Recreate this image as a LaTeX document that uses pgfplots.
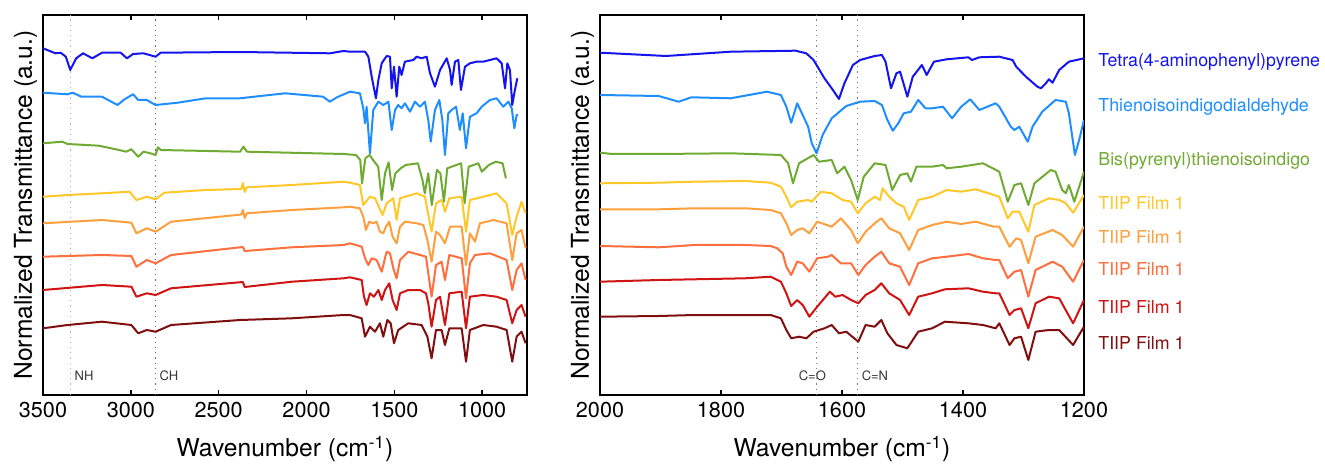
\documentclass[border=0pt]{standalone}
\usepackage{fontspec}
\setmainfont{TeX Gyre Heros}
\usepackage{pgfplots}
\pgfplotsset{compat=1.18}

\definecolor{cTAPPy}{RGB}{20,20,238}
\definecolor{cTID}{RGB}{30,142,255}
\definecolor{cBPTI}{RGB}{112,170,50}
\definecolor{cFa}{RGB}{255,200,40}
\definecolor{cFb}{RGB}{255,158,60}
\definecolor{cFc}{RGB}{255,110,60}
\definecolor{cFd}{RGB}{208,20,20}
\definecolor{cFe}{RGB}{128,15,15}

\tikzset{bandlbl/.style={font=\fontsize{6.5}{7}\selectfont, text=black!80, inner sep=0pt}}

\pgfplotsset{
  irpanel/.style={
    anchor=south west,
    scale only axis,
    width=242pt, height=190pt,
    x dir=reverse,
    ymin=0, ymax=380,
    ytick=\empty,
    tick align=inside,
    major tick length=2.5pt,
    xticklabel pos=lower,
    axis line style={line width=0.9pt},
    every tick/.style={black, line width=0.8pt},
    /pgf/number format/assume math mode=true,
    /pgf/number format/1000 sep={},
    tick label style={font=\fontsize{10.8}{12}\selectfont},
    label style={font=\fontsize{12.3}{14}\selectfont},
    xlabel={Wavenumber (cm\textsuperscript{-1})},
    xlabel style={at={(axis description cs:0.5,0)}, anchor=center, yshift=-27pt},
    ylabel={Normalized Transmittance (a.u.)},
    ylabel style={at={(axis description cs:-0.036,0.5)}, anchor=center},
    every axis plot/.append style={line width=1pt, line join=round, no markers},
  },
}

\begin{document}
\begin{tikzpicture}[x=1pt,y=1pt]
\useasboundingbox (0,0) rectangle (662.5,233);

% ---------------- full range ----------------
\begin{axis}[irpanel, at={(21.5pt,35.5pt)}, xmin=745, xmax=3500,
  xtick={1000,1500,2000,2500,3000,3500}]
\draw[black!30, dotted, line width=0.6pt] (axis cs:3345,0) -- (axis cs:3345,380);
\draw[black!60, dotted, line width=0.6pt] (axis cs:2860,0) -- (axis cs:2860,380);
\node[bandlbl, anchor=west] at (axis cs:3322,19) {NH};
\node[bandlbl, anchor=west] at (axis cs:2838,19) {CH};

\addplot[cTAPPy] table {
3500 346.7
3429 341.7
3400 342.3
3370 338.3
3345 325
3311 336.7
3272 341.7
3219 336.7
3164 342.3
3058 342.3
3022 336.7
2987 341
2928 341.7
2859 338.3
2830 342.3
2379 343
1867 341.7
1790 344
1753 343.3
1667 343.3
1648 338.3
1629 318.3
1605 296.7
1591 315
1572 331.7
1544 339
1525 338.3
1515 306.7
1502 328.3
1487 298.3
1472 328.3
1459 320
1440 333.3
1392 335
1373 338.3
1345 336.7
1316 338.3
1297 321.7
1269 308.3
1240 325
1202 336.7
1183 325
1174 310
1155 333.3
1136 335
1121 305
1098 328.3
1070 331.7
1032 333.3
994 333.3
918 336.7
889 331.7
870 306.7
857 331.7
842 325
829 290
814 305
800 316.7
};
\addplot[cTID] table {
3500 302.3
3360 300.7
3331 302.3
3282 298.3
3164 298.3
3076 290
3036 295.7
2987 300.7
2958 295
2909 295
2859 290
2733 292.3
2574 296.7
2380 296.7
2122 301.7
1906 298.3
1867 293.3
1827 297.7
1753 303.3
1696 301.7
1677 286.7
1667 271.7
1658 288.3
1639 241.7
1620 285
1591 293.3
1563 290
1534 293.3
1515 265
1496 285
1478 290
1459 286.7
1440 291.7
1411 283.3
1383 293.3
1354 288.3
1326 293.3
1307 275
1293 253.3
1269 285
1244 295
1227 275
1212 240
1193 281.7
1174 285
1149 288.3
1127 265
1111 281.7
1092 246.7
1070 278.3
1032 281.7
1003 288.3
956 295
918 296.7
880 288.3
851 293.3
832 286.7
817 266.7
804 280
795 280
};
\addplot[cBPTI] table {
3500 251.7
3390 253.3
3360 251
3183 249.3
3066 245
3027 243.3
2997 245.7
2958 238.3
2928 243.3
2889 241.7
2859 240
2846 247.7
2830 245
2378 243.3
2359 248.3
2339 243.3
1788 241
1719 240
1694 235
1684 211.7
1665 236.7
1641 240
1621 235
1592 228.3
1572 195
1553 221.7
1533 232.7
1513 205
1494 221.7
1464 226.7
1435 230
1366 231.7
1340 215
1327 201.7
1307 221.7
1287 190
1258 225
1238 221.7
1218 193.3
1199 226.7
1120 231.7
1100 191.7
1077 228.3
1022 231.7
1002 223.3
963 230
923 233.3
884 231.7
865 216.7
};
\addplot[cFa] table {
3500 198.3
3360 200
3164 201.7
3007 203.3
2968 195
2909 198.3
2859 195.7
2810 202.3
2574 205
2372 206
2362 212
2352 203
2340 207.7
2083 210
1788 213.3
1753 212.3
1696 210
1677 190
1639 198.3
1610 196.7
1567 180
1544 191.7
1506 196.7
1487 175
1468 196.7
1373 201.7
1326 198.3
1312 185
1288 163.3
1263 191.7
1231 195
1212 183.3
1187 196.7
1117 198.3
1092 163.3
1070 195
994 198.3
918 201.7
861 191.7
829 160
804 178.3
776 193.3
753 181.7
};
\addplot[cFb] table {
3500 171.7
3164 175
2997 172.3
2968 161.7
2909 166.7
2859 163.3
2771 173.3
2372 180.5
2362 185
2352 177
2340 181.7
2083 185
1788 187.7
1753 188.3
1696 186.7
1677 178.3
1662 165
1643 173.3
1620 171.7
1601 173.3
1582 163.3
1563 161.7
1548 168.3
1529 173.3
1510 158.3
1487 151.7
1468 168.3
1440 173.3
1373 171.7
1335 170
1312 155
1288 133.3
1263 163.3
1240 160
1212 151.7
1183 168.3
1117 168.3
1092 130
1070 161.7
1041 153.3
1013 171.7
937 175
861 171.7
829 135
804 161.7
776 165
753 146.7
};
\addplot[cFc] table {
3500 138.3
3164 140
2997 139
2968 128.3
2909 135
2859 131.7
2771 140
2362 148
2352 144
2083 147.7
1788 150
1753 151.7
1686 148.3
1667 136.7
1648 130
1629 136.7
1601 135
1572 123.3
1544 143.3
1525 141.7
1506 126.7
1487 116.7
1468 135
1421 143.3
1354 140
1320 138.3
1307 121.7
1288 98.3
1263 130
1231 133.3
1212 115
1187 140
1117 136.7
1092 96.7
1070 131.7
1041 140
956 141.7
861 135
829 105
804 125
776 131.7
753 115
};
\addplot[cFd] table {
3500 105
3164 110
2997 108.3
2968 98.3
2909 101.7
2859 100
2771 106.7
2362 113
2352 108
2083 113.3
1788 116.7
1753 117.7
1686 115
1673 98.3
1658 90
1639 101.7
1616 98.3
1591 105
1572 95
1553 105
1529 111.7
1510 95
1487 85
1468 101.7
1421 105
1354 105
1320 101.7
1307 91.7
1288 68.3
1263 95
1240 98.3
1212 70
1187 101.7
1117 103.3
1092 66.7
1070 98.3
994 100
918 98.3
861 95
829 71.7
804 85
776 90
753 78.3
};
\addplot[cFe] table {
3500 66.7
3360 70
3164 73.3
2997 70
2958 61.7
2909 65
2859 63.3
2771 70
2378 75
2083 76.7
1788 80
1753 80
1686 76.7
1667 58.3
1639 68.3
1610 63.3
1582 71.7
1563 58.3
1540 75
1521 71.7
1502 51.7
1478 65
1421 71.7
1345 70
1312 58.3
1288 36.7
1263 65
1231 65
1212 50
1187 66.7
1117 66.7
1092 33.3
1070 65
994 70
918 68.3
861 65
829 33.3
804 58.3
776 63.3
753 51.7
};
\end{axis}

% ---------------- fingerprint region ----------------
\begin{axis}[irpanel, at={(300pt,35.5pt)}, xmin=1200, xmax=2000,
  xtick={1200,1400,1600,1800,2000}]
\draw[black!50, dotted, line width=0.6pt] (axis cs:1642,0) -- (axis cs:1642,380);
\draw[black!50, dotted, line width=0.6pt] (axis cs:1575,0) -- (axis cs:1575,380);
\node[bandlbl, anchor=east] at (axis cs:1626,19) {C=O};
\node[bandlbl, anchor=west] at (axis cs:1568,19) {C=N};

\addplot[cTAPPy] table {
2000 342.3
1891 339
1784 343.3
1677 344.3
1659 341.7
1647 335
1629 316.7
1617 306.7
1605 296
1596 311.7
1582 330
1570 335
1546 339
1534 340
1528 333.3
1519 306.7
1510 321.7
1504 323.3
1492 298.3
1483 318.3
1468 330
1460 320
1448 333.3
1427 335.7
1391 337.7
1385 335
1373 337.7
1340 338.3
1318 335
1312 328.3
1296 318.3
1277 308.3
1271 306.7
1263 311.7
1258 315.7
1252 312.3
1241 325
1225 333.3
1200 336.7
};
\addplot[cTID] table {
2000 300
1903 299
1870 293.3
1849 297.7
1784 296.7
1724 303.3
1701 300
1692 288.3
1684 272.3
1674 291.7
1665 280
1656 268.3
1650 251.7
1642 241.7
1632 260
1617 276.7
1593 289
1570 293.3
1546 294
1534 290
1525 275
1516 264.3
1507 271.7
1498 281.7
1486 283.3
1474 295
1462 286.7
1451 286.7
1433 288.3
1418 276.7
1403 288.3
1388 295.7
1373 285
1346 291.7
1340 288.3
1321 268.3
1315 265
1307 268.3
1293 253.3
1285 268.3
1269 283.3
1247 295
1230 293.3
1225 281.7
1215 240
1208 255
1200 275
};
\addplot[cBPTI] table {
2000 242.3
1980 241
1903 241
1784 241.7
1701 240
1689 231.7
1681 211.7
1671 231.7
1647 240
1638 233.3
1617 235
1608 221.7
1596 228.3
1585 215
1574 195
1564 218.3
1546 231.7
1528 230
1517 205
1504 220
1492 221.7
1486 213.3
1477 228.3
1451 228.3
1433 230
1427 226.7
1403 228.3
1367 231.7
1340 223.3
1326 193.3
1315 210
1304 211.7
1292 190
1282 211.7
1255 225
1247 223.3
1236 205
1230 201.7
1225 210
1216 193.3
1208 208.3
1200 223.3
};
\addplot[cFa] table {
2000 211.7
1903 212.3
1844 213.3
1760 214
1718 212.3
1701 208.3
1692 198.3
1684 187.7
1674 193.3
1656 195
1650 193.3
1635 203.3
1617 201.7
1599 195
1585 193.3
1574 181.7
1561 191.7
1546 198.3
1537 195
1533 206.7
1522 198.3
1510 191.7
1498 188.3
1489 175
1474 195
1451 198.3
1427 205
1403 203.3
1379 205.7
1349 200
1340 198.3
1326 176.7
1318 183.3
1307 183.3
1292 163.3
1282 190
1258 196.7
1241 195
1230 191.7
1218 182.3
1200 200
};
\addplot[cFb] table {
2000 185.7
1903 185.7
1844 186.7
1760 186.7
1718 185
1701 181.7
1692 171.7
1684 160
1674 165
1665 166.7
1654 161.7
1641 173.3
1617 168.3
1602 176.7
1585 165
1574 151.7
1561 163.3
1546 171.7
1535 176.7
1522 166.7
1504 161.7
1489 145
1474 165
1451 170
1427 173.3
1403 171
1379 173.3
1349 168.3
1340 168.3
1323 148.3
1312 156.7
1304 155
1292 131.7
1280 158.3
1252 165
1236 160
1218 148.3
1200 168.3
};
\addplot[cFc] table {
2000 149
1903 147.7
1844 150
1760 150
1718 149
1707 146.7
1698 141.7
1692 128.3
1684 120
1674 133.3
1665 131.7
1654 123.3
1641 136.7
1623 138.3
1617 140
1602 131.7
1585 131.7
1573 120
1561 130
1546 138.3
1535 143.3
1522 131.7
1504 128.3
1489 110
1474 131.7
1451 136.7
1427 138.3
1391 141
1367 136.7
1346 135
1340 135
1326 116.7
1315 123.3
1304 125
1292 98.3
1280 125
1252 133.3
1236 128.3
1218 113.3
1200 135
};
\addplot[cFd] table {
2000 113.3
1903 115
1844 115.7
1760 116.7
1718 118.3
1701 113.3
1692 101.7
1684 89
1674 95
1665 90
1654 78.3
1641 88.3
1620 103.3
1611 98.3
1599 100
1585 95
1573 91.7
1561 100
1546 105
1535 111.7
1522 101.7
1504 95
1489 80
1474 98.3
1451 101.7
1430 105.7
1391 106.7
1367 103.3
1346 101.7
1340 101.7
1323 80
1315 85
1304 86.7
1292 66.7
1280 91.7
1258 98.3
1241 96.7
1218 71.7
1200 95
};
\addplot[cFe] table {
2000 78.3
1903 79
1844 80
1760 80
1718 80
1701 76.7
1692 65
1684 56.7
1671 58.3
1659 56.7
1647 63.3
1629 66.7
1617 70
1605 61.7
1593 63.3
1573 53.3
1561 70
1546 68.3
1535 75
1525 61.7
1510 50
1492 46.7
1474 63.3
1451 66.7
1430 73.3
1391 71.7
1367 70
1346 66.7
1340 71.7
1323 50
1315 56.7
1304 58.3
1292 35
1280 63.3
1258 65
1241 65
1218 50
1200 68.3
};
\end{axis}

% sample names
\begin{scope}[every node/.style={anchor=base west, inner sep=0pt, font=\fontsize{8.9}{10}\selectfont}]
\node[text=cTAPPy] at (549,199.8) {Tetra(4-aminophenyl)pyrene};
\node[text=cTID]   at (549,177.3) {Thienoisoindigodialdehyde};
\node[text=cBPTI]  at (549,150.3) {Bis(pyrenyl)thienoisoindigo};
\node[text=cFa]    at (549,128.3) {TIIP Film 1};
\node[text=cFb]    at (549,111.3) {TIIP Film 1};
\node[text=cFc]    at (549,95.3)  {TIIP Film 1};
\node[text=cFd]    at (549,76.3)  {TIIP Film 1};
\node[text=cFe]    at (549,58.3)  {TIIP Film 1};
\end{scope}
\end{tikzpicture}
\end{document}
